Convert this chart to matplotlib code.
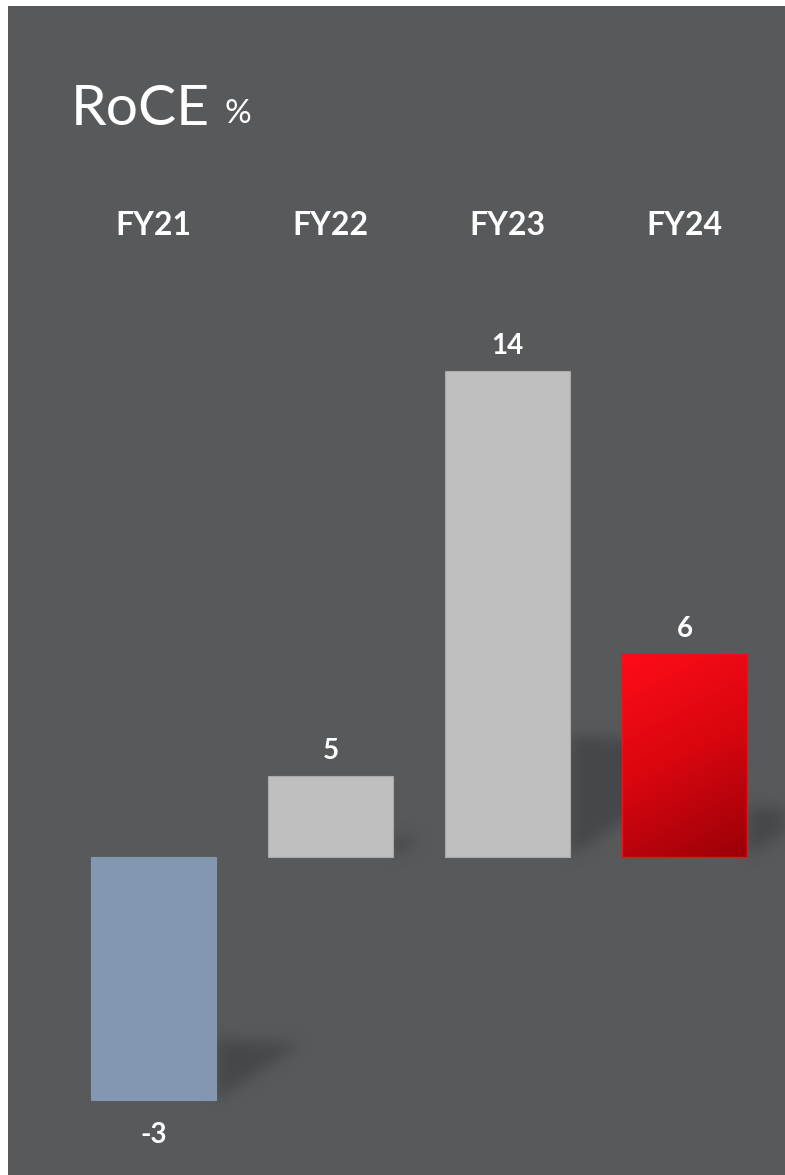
import numpy as np
import matplotlib
matplotlib.use("Agg")
import matplotlib.pyplot as plt
from matplotlib.patches import Rectangle
from matplotlib.path import Path
from matplotlib.colors import LinearSegmentedColormap

# data
years = ["FY21", "FY22", "FY23", "FY24"]
value_labels = ["-3", "5", "14", "6"]
# drawn bar heights (the artwork is not to scale, so these are read off the bars)
bar_heights = [-7.0, 2.33, 14.0, 5.85]
bar_colors = ["#8497b0", "#bfbfbf", "#bfbfbf", None]  # None -> red gradient

BG = "#58595b"
PX_Y = 34.7   # px per y unit
PX_X = 177.0  # px per x unit
W, H = 785, 1175
ZERO_PX = 857
FIRST_PX = 153.5

plt.rcParams["font.family"] = ["Lato", "DejaVu Sans"]

fig = plt.figure(figsize=(W / 100, H / 100), dpi=100, facecolor="white")
fig.add_artist(Rectangle((8 / W, 0), 1, 1 - 6 / H, transform=fig.transFigure,
                         facecolor=BG, edgecolor="none", zorder=0))

ax = fig.add_axes([0, 0, 1, 1])
ax.set_facecolor("none")
xlim = (-FIRST_PX / PX_X, (W - FIRST_PX) / PX_X)
ylim = ((ZERO_PX - H) / PX_Y, ZERO_PX / PX_Y)
x = np.arange(len(years))
bw = 125 / PX_X

# soft shadows cast up-right from the foot of each bar
xs = np.linspace(xlim[0], xlim[1], W)
ys = np.linspace(ylim[1], ylim[0], H)
gx, gy = np.meshgrid(xs, ys)
pts = np.column_stack([gx.ravel(), gy.ravel()])
mask = np.zeros(gx.size)
for xi, h in zip(x, bar_heights):
    xr = xi + bw / 2
    yb = min(0, h)
    hp = abs(h) * PX_Y
    poly = [(xr, yb), (xr, yb + 0.25 * hp / PX_Y),
            (xr + 0.35 * hp / PX_X, yb + 0.23 * hp / PX_Y), (xr, yb)]
    mask = np.maximum(mask, Path(poly).contains_points(pts))
mask = mask.reshape(gx.shape)
k = np.exp(-0.5 * (np.arange(-21, 22) / 7.0) ** 2)
k /= k.sum()
mask = np.apply_along_axis(lambda r: np.convolve(r, k, "same"), 1, mask)
mask = np.apply_along_axis(lambda c: np.convolve(c, k, "same"), 0, mask)
shadow = np.zeros(mask.shape + (4,))
shadow[..., :3] = np.array([0x3a, 0x3c, 0x3f]) / 255
shadow[..., 3] = 0.6 * mask
ax.imshow(shadow, extent=(xlim[0], xlim[1], ylim[0], ylim[1]),
          aspect="auto", zorder=1, interpolation="bilinear")

red_cmap = LinearSegmentedColormap.from_list("red", ["#ff0c18", "#d8060f", "#9a0008"])
for xi, h, c, lab in zip(x, bar_heights, bar_colors, value_labels):
    if c is None:
        bar = ax.bar(xi, h, width=bw, color="none", edgecolor="#f01018",
                     linewidth=1.0, zorder=3)[0]
        u, v = np.meshgrid(np.linspace(0, 1, 100), np.linspace(0, 1, 200))
        grad = 0.75 * v + 0.25 * u
        im = ax.imshow(grad, cmap=red_cmap, extent=(xi - bw / 2, xi + bw / 2, 0, h),
                       origin="upper", aspect="auto", zorder=2)
        im.set_clip_path(bar)
    else:
        ec = "#aaaaaa" if c == "#bfbfbf" else c
        ax.bar(xi, h, width=bw, color=c, edgecolor=ec, linewidth=0.8, zorder=2)
    off = 18 if h > 0 else -25
    ax.annotate(lab, (xi, h), xytext=(0, off), textcoords="offset points",
                ha="center", va="center", color="white", fontsize=20,
                fontweight="bold", zorder=4)

for xi, yr in zip(x, years):
    ax.text(xi, (ZERO_PX - 225) / PX_Y, yr, ha="center", va="center",
            color="white", fontsize=23, fontweight="bold")

fig.text(71 / W, 1 - 125 / H, "RoCE", color="white", fontsize=41, va="baseline")
fig.text(224 / W, 1 - 123 / H, "%", color="white", fontsize=24, va="baseline")

ax.set_xlim(*xlim)
ax.set_ylim(*ylim)
ax.axis("off")

fig.savefig("out.png", dpi=100, facecolor="white")
